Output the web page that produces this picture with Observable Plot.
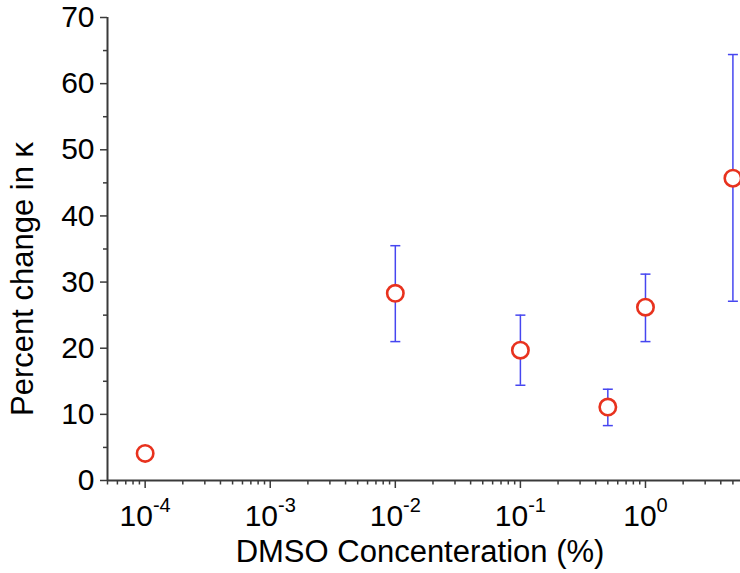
<!DOCTYPE html>
<html>
<head>
<meta charset="utf-8">
<script src="https://cdn.jsdelivr.net/npm/d3@7"></script>
<script src="https://cdn.jsdelivr.net/npm/@observablehq/plot@0.6"></script>
<style>
  html, body { margin: 0; padding: 0; background: #fff; }
</style>
</head>
<body>
<div id="chart"></div>
<script>
// ---- data ----
const concentration = [1e-4, 1e-2, 1e-1, 0.5, 1, 5];           // DMSO %
const percentChange = [4.1, 28.3, 19.7, 11.1, 26.2, 45.7];      // % change in kappa
const errorLow      = [null, 21.0, 14.4, 8.3, 21.0, 27.1];
const errorHigh     = [null, 35.5, 25.0, 13.8, 31.2, 64.4];

const xMajorTicks = [1e-4, 1e-3, 1e-2, 1e-1, 1];
const xTickExponents = ["-4", "-3", "-2", "-1", "0"];
const yMajorTicks = [0, 10, 20, 30, 40, 50, 60, 70];
const yMinorTicks = [5, 15, 25, 35, 45, 55, 65];
const xMinorTicks = [];
for (const decade of [1e-5, 1e-4, 1e-3, 1e-2, 1e-1, 1]) {
  for (const m of [2, 3, 4, 5, 6, 7, 8, 9]) {
    const v = m * decade;
    if (v >= 5e-5 && v <= 5.75) xMinorTicks.push(v);
  }
}

const xTitle = "DMSO Concenteration (%)";
const yTitle = "Percent change in \u03BA";

const points = concentration.map((c, i) => ({
  x: c, y: percentChange[i], lo: errorLow[i], hi: errorHigh[i]
}));
const bars = points.filter(d => d.lo != null);

const axisColor = "#3a3a3a";
const font = "'Liberation Sans', Arial, sans-serif";

// horizontal cap symbol for error bars
const capSymbol = { draw(ctx) { ctx.moveTo(-5, 0); ctx.lineTo(5, 0); } };

const chart = Plot.plot({
  width: 740,
  height: 573,
  marginLeft: 107,
  marginRight: 0,
  marginTop: 17,
  marginBottom: 93,
  style: { fontFamily: font, background: "#fff", color: "#000" },
  x: { type: "log", domain: [5e-5, 5.75] },
  y: { domain: [0, 70] },
  marks: [
    // minor ticks
    Plot.axisX({ ticks: xMinorTicks, tickSize: 4.5, tickFormat: () => "", label: null, stroke: axisColor, strokeWidth: 1.5 }),
    Plot.axisY({ ticks: yMinorTicks, tickSize: 4, tickFormat: () => "", label: null, stroke: axisColor, strokeWidth: 1.5 }),
    // major ticks with labels
    Plot.axisX({
      ticks: xMajorTicks, tickSize: 8, tickPadding: 16, label: null,
      tickFormat: d => "10^" + xTickExponents[xMajorTicks.indexOf(d)],
      stroke: axisColor, strokeWidth: 1.5, fontSize: 30, fill: "#000"
    }),
    Plot.axisY({
      ticks: yMajorTicks, tickSize: 7, tickPadding: 6, label: null,
      tickFormat: d => String(d),
      stroke: axisColor, strokeWidth: 1.5, fontSize: 30, fill: "#000"
    }),
    // axis lines
    Plot.ruleY([0], { stroke: axisColor, strokeWidth: 2 }),
    Plot.ruleX([5e-5], { stroke: axisColor, strokeWidth: 2 }),
    // error bars
    Plot.ruleX(bars, { x: "x", y1: "lo", y2: "hi", stroke: "#4646f0", strokeWidth: 1.5 }),
    Plot.dot(bars, { x: "x", y: "lo", symbol: capSymbol, stroke: "#4646f0", strokeWidth: 1.5, fill: "none" }),
    Plot.dot(bars, { x: "x", y: "hi", symbol: capSymbol, stroke: "#4646f0", strokeWidth: 1.5, fill: "none" }),
    // data points
    Plot.dot(points, { x: "x", y: "y", r: 8.2, stroke: "#e8321e", strokeWidth: 2.6, fill: "#fff" }),
    // axis titles
    Plot.text([xTitle], { text: d => d, frameAnchor: "bottom", textAnchor: "middle", dx: -4, dy: 72, lineAnchor: "middle", fontSize: 31, fill: "#000" }),
    Plot.text([yTitle], { text: d => d, frameAnchor: "left", textAnchor: "middle", rotate: -90, dx: -84, dy: 30, lineAnchor: "middle", fontSize: 31, fill: "#000" })
  ]
});

// tick label font size, and "10^-4" tick labels into real superscripts
chart.querySelectorAll('g[aria-label="x-axis tick label"], g[aria-label="y-axis tick label"]').forEach(g => {
  g.setAttribute("font-size", "30");
  g.style.fontSize = "30px";
});
chart.querySelectorAll('g[aria-label="x-axis tick label"] text').forEach(t => {
  const s = t.textContent;
  if (s.includes("^")) {
    const [base, exp] = s.split("^");
    t.textContent = "";
    const b = document.createElementNS("http://www.w3.org/2000/svg", "tspan");
    b.textContent = base;
    const e = document.createElementNS("http://www.w3.org/2000/svg", "tspan");
    e.textContent = exp;
    e.setAttribute("dy", "-14");
    e.setAttribute("font-size", "20");
    t.appendChild(b);
    t.appendChild(e);
  }
});

document.getElementById("chart").appendChild(chart);
</script>
</body>
</html>
